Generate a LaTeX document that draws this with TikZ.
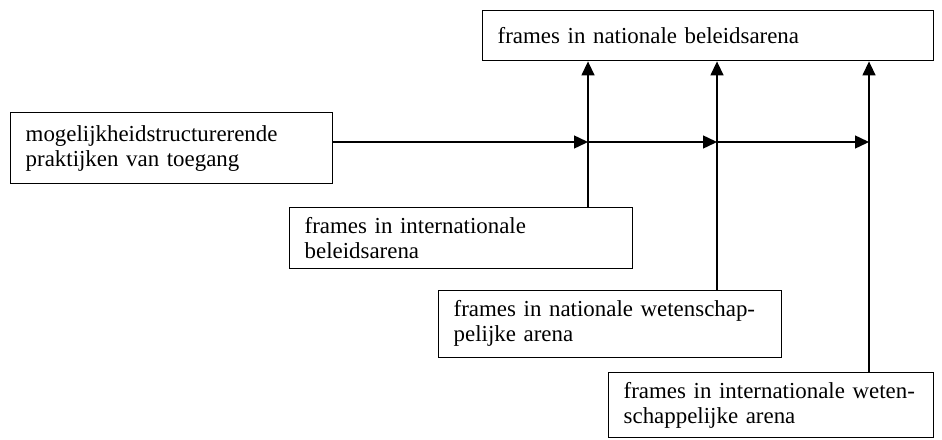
\documentclass[tikz,border=0pt]{standalone}
\usepackage{fontspec}
\setmainfont{Liberation Serif}
\usetikzlibrary{arrows.meta}
\begin{document}
\begin{tikzpicture}[x=1pt,y=1pt,
  box/.style={draw, line width=1.4pt, rectangle, anchor=north west, align=left,
    inner xsep=15pt, inner ysep=0pt, font=\fontsize{22.9}{25}\selectfont},
  arr/.style={line width=1.4pt, -{Triangle[length=14pt,width=13pt]}}]
\useasboundingbox (0,0) rectangle (942,-439);
\node[box, text width=421pt, minimum height=50pt] (top) at (482,-10) {frames in nationale beleidsarena};
\node[box, text width=292pt, minimum height=71pt] (left) at (10,-112) {mogelijkheidstructurerende\\praktijken van toegang};
\node[box, text width=313pt, minimum height=61pt] (b2) at (289,-207) {frames in internationale\\beleidsarena};
\node[box, text width=313pt, minimum height=67pt] (b3) at (438,-289.5) {frames in nationale wetenschap-\\pelijke arena};
\node[box, text width=295pt, minimum height=65pt] (b4) at (608,-372) {frames in internationale weten-\\schappelijke arena};
\coordinate (j1) at (588,-142);
\coordinate (j2) at (717,-142);
\coordinate (j3) at (869,-142);
\draw[arr] (left.east |- j1) -- (j1);
\draw[arr] (j1) -- (j2);
\draw[arr] (j2) -- (j3);
\draw[arr] (b2.north -| j1) -- (top.south -| j1);
\draw[arr] (b3.north -| j2) -- (top.south -| j2);
\draw[arr] (b4.north -| j3) -- (top.south -| j3);
\end{tikzpicture}
\end{document}
